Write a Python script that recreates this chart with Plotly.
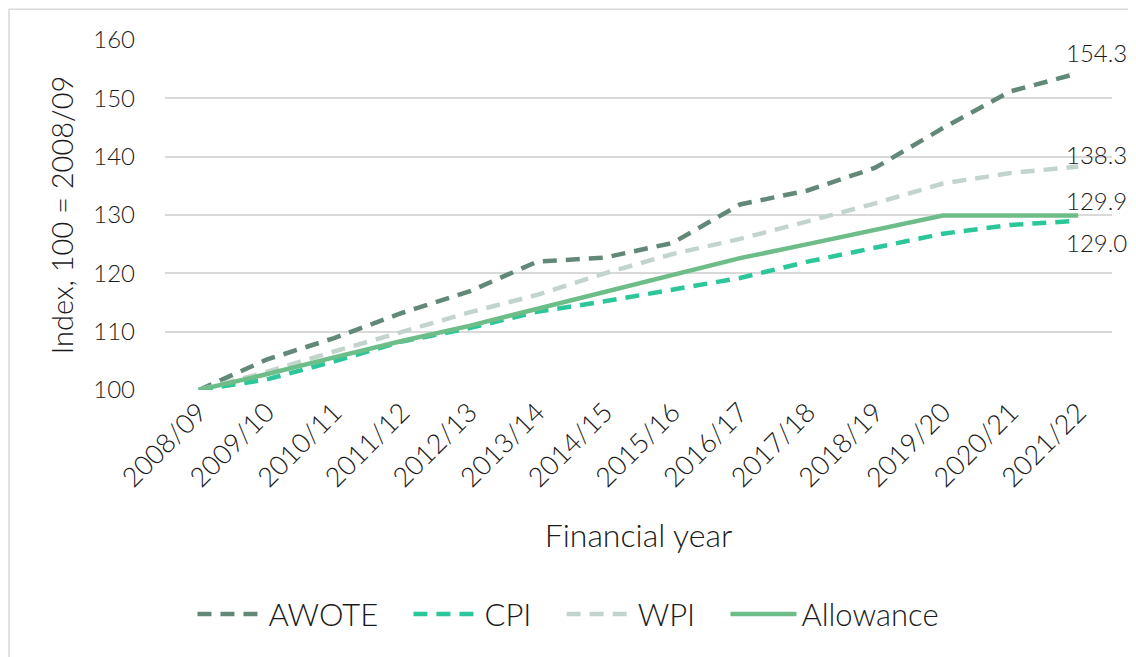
import plotly.graph_objects as go

years = ["2008/09", "2009/10", "2010/11", "2011/12", "2012/13", "2013/14", "2014/15",
         "2015/16", "2016/17", "2017/18", "2018/19", "2019/20", "2020/21", "2021/22"]
awote = [100, 105.2, 108.9, 113.2, 116.9, 122.0, 122.7, 125.2, 131.8, 134.2, 138.1, 144.9, 151.2, 154.3]
cpi = [100, 101.8, 104.9, 108.3, 110.6, 113.4, 115.2, 117.2, 119.2, 122.0, 124.4, 126.8, 128.3, 129.0]
wpi = [100, 103.1, 106.6, 109.9, 113.3, 116.3, 120.0, 123.3, 125.9, 128.9, 132.0, 135.4, 137.2, 138.3]
allowance = [100, 102.7, 105.6, 108.4, 111.0, 113.9, 116.7, 119.6, 122.6, 125.0, 127.5, 129.9, 129.9, 129.9]

series = [
    ("AWOTE", awote, "#628878", "14px,9px"),
    ("CPI", cpi, "#2BC79A", "14px,9px"),
    ("WPI", wpi, "#C3D4CD", "14px,9px"),
    ("Allowance", allowance, "#6DBD88", "solid"),
]

FONT = "Lato"
TXT = "#1a1a1a"
PAD = "\u00a0" * 3
fig = go.Figure()
for name, vals, color, dash in series:
    fig.add_trace(go.Scatter(x=years, y=vals, name=name + PAD, mode="lines",
                             line=dict(color=color, width=4.5, dash=dash)))

labels = [(awote[-1], 21), (wpi[-1], 12), (allowance[-1], 15), (cpi[-1], -22)]
for val, ys in labels:
    fig.add_annotation(x=years[-1], y=val, text=f"{val:.1f}", showarrow=False,
                       xanchor="left", xshift=-14, yshift=ys,
                       font=dict(family=FONT, size=24, color=TXT, weight=300))

# page body has an 8px default margin: figure is sized to fit the 1136x657 window
fig.add_shape(type="rect", xref="paper", yref="paper",
              x0=-0.1647, x1=1.2, y0=-1.0, y1=1.088,
              line=dict(color="#D9D9D9", width=1.5), layer="below")

fig.update_layout(
    width=1128, height=649,
    margin=dict(l=157, r=24, t=32, b=267, autoexpand=False),
    paper_bgcolor="white", plot_bgcolor="white",
    font=dict(family=FONT, size=24, color=TXT, weight=300),
    showlegend=True,
    legend=dict(orientation="h", x=0.029, xanchor="left", y=-0.641, yanchor="middle",
                font=dict(size=31, weight=300), itemwidth=66, tracegroupgap=0),
    xaxis=dict(type="category", tickangle=-45, showgrid=False, zeroline=False,
               showline=False, ticks="", range=[-0.5, 13.5], automargin=False,
               title=dict(text="Financial year", font=dict(size=32, weight=300), standoff=32),
               tickfont=dict(size=27, weight=300)),
    yaxis=dict(range=[100, 160], dtick=10, showgrid=True, gridcolor="#D9D9D9",
               gridwidth=1.5, zeroline=False, showline=False, ticks="", automargin=False,
               ticklabelstandoff=29,
               title=dict(text="Index, 100 = 2008/09", font=dict(size=29, weight=300), standoff=11),
               tickfont=dict(size=24, weight=300)),
)

fig.write_html("out.html")
